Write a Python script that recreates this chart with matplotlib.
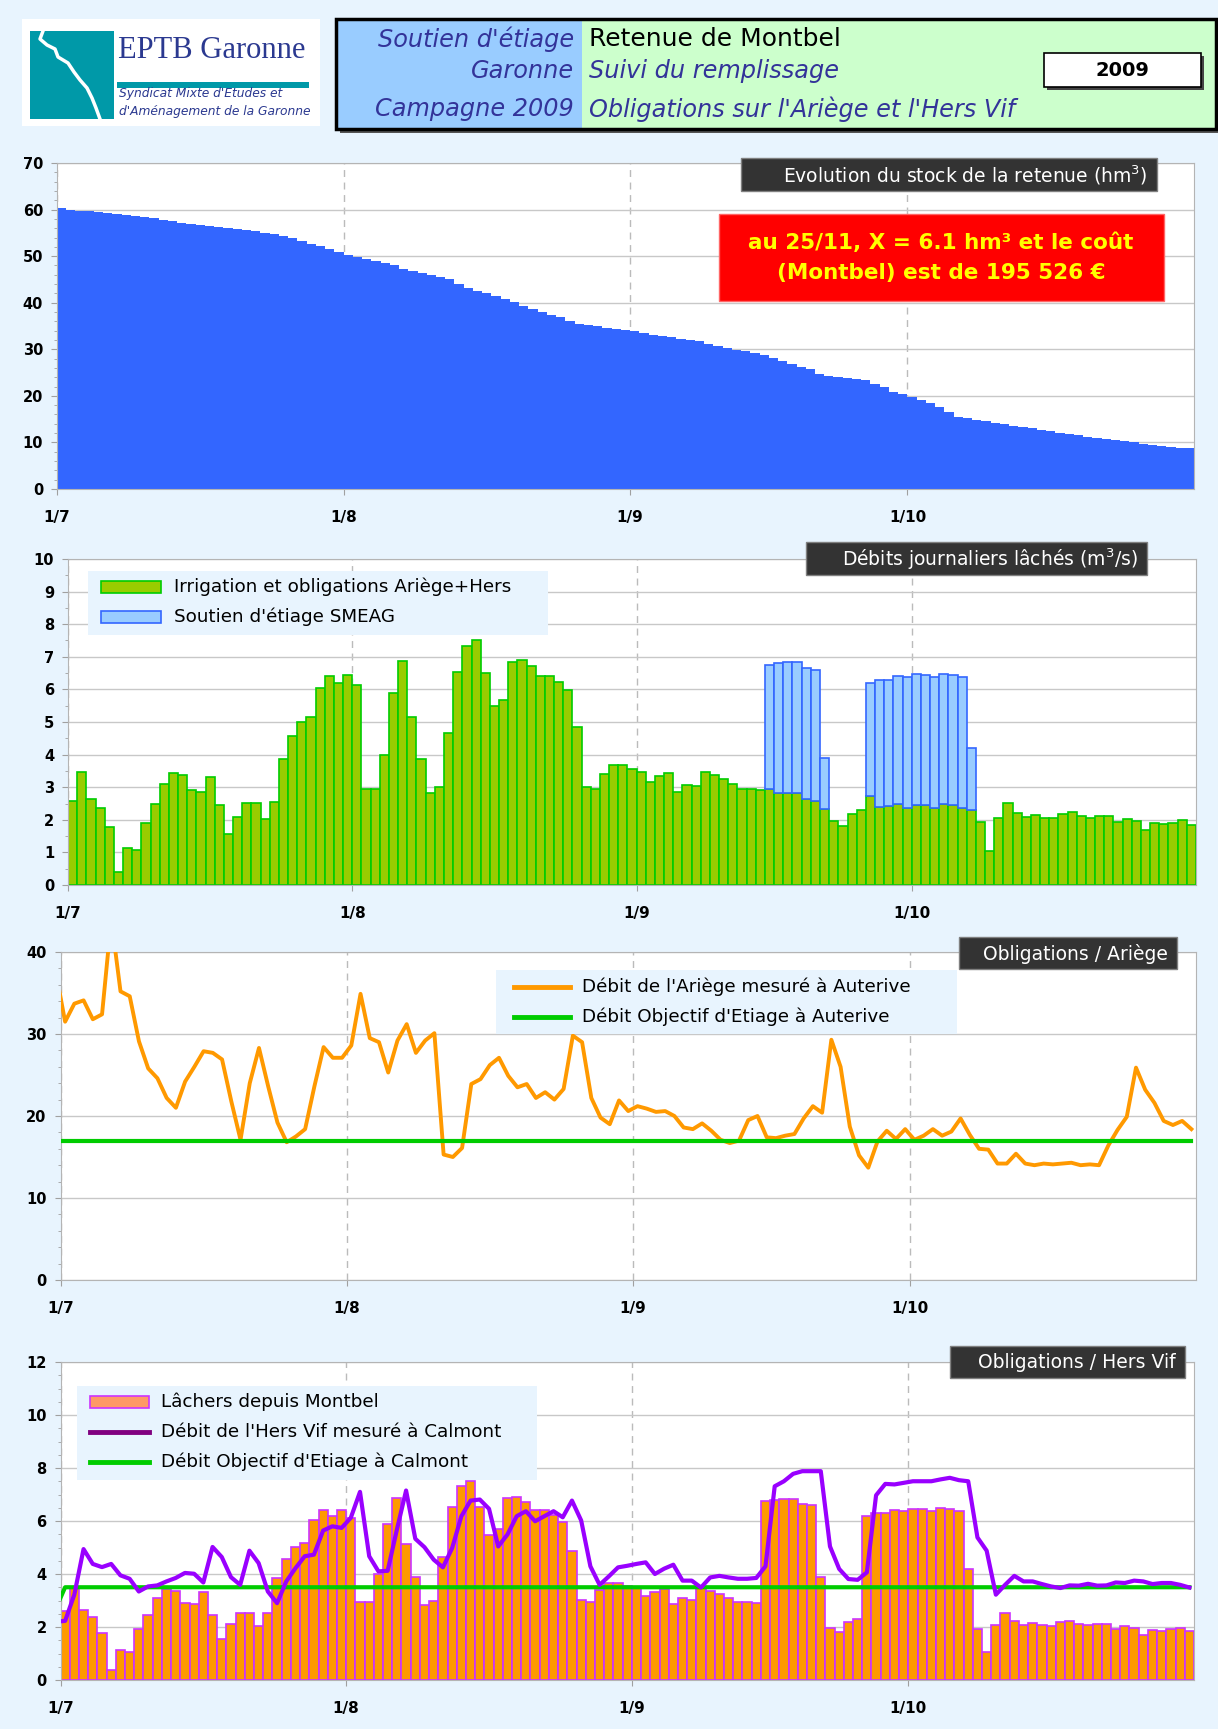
import matplotlib
matplotlib.use("Agg")
import matplotlib.pyplot as plt
from matplotlib.patches import Rectangle
from matplotlib.lines import Line2D
import numpy as np

plt.rcParams['font.family'] = ['DejaVu Sans']
plt.rcParams['mathtext.default'] = 'regular'

W, H = 1218, 1729
BG = '#E8F4FE'

# ---- data (one value per day, 1/7 -> 31/10) ----
month_ticks = [0, 31, 62, 92]
month_labels = ["1/7", "1/8", "1/9", "1/10"]
n_days = 123

# stock de la retenue (hm3)
stock = [60.3, 60.0, 59.8, 59.6, 59.4, 59.2, 59.0, 58.9, 58.7, 58.5, 58.2, 57.8, 57.5, 57.2, 56.9, 56.6,
         56.4, 56.2, 56.0, 55.8, 55.6, 55.3, 55.0, 54.7, 54.3, 53.9, 53.3, 52.7, 52.2, 51.5, 50.9,
         50.3, 49.8, 49.4, 49.0, 48.6, 48.0, 47.3, 46.8, 46.4, 46.0, 45.5, 45.0, 44.1, 43.2, 42.6, 42.1,
         41.4, 40.8, 40.1, 39.4, 38.7, 38.0, 37.3, 36.9, 36.0, 35.5, 35.2, 34.9, 34.6, 34.4, 34.2,
         34.0, 33.5, 33.1, 32.8, 32.6, 32.3, 32.0, 31.7, 31.2, 30.7, 30.2, 29.9, 29.6, 29.2, 28.7,
         28.2, 27.5, 26.9, 26.3, 25.7, 24.6, 24.2, 24.0, 23.8, 23.6, 23.3, 22.6, 21.9, 20.9, 20.4,
         19.7, 19.2, 18.4, 17.6, 16.5, 15.5, 15.2, 14.9, 14.5, 14.2, 13.9, 13.6, 13.3, 13.0, 12.7,
         12.4, 12.1, 11.8, 11.5, 11.2, 11.0, 10.7, 10.5, 10.2, 10.0, 9.7, 9.5, 9.2, 9.0, 8.9, 8.7]

# débits lâchés (m3/s) : irrigation + obligations Ariège/Hers
irrigation = [2.59, 3.48, 2.65, 2.36, 1.78, 0.39, 1.13, 1.06, 1.91, 2.47, 3.10, 3.45, 3.37, 2.90, 2.86, 3.32,
              2.45, 1.55, 2.10, 2.52, 2.52, 2.03, 2.54, 3.85, 4.58, 5.01, 5.16, 6.04, 6.40, 6.20, 6.43,
              6.12, 2.95, 2.95, 4.00, 5.89, 6.88, 5.14, 3.88, 2.83, 3.00, 4.65, 6.52, 7.33, 7.50, 6.51,
              5.48, 5.69, 6.85, 6.91, 6.72, 6.41, 6.40, 6.24, 5.98, 4.86, 3.02, 2.96, 3.41, 3.67, 3.67, 3.55,
              3.48, 3.17, 3.33, 3.45, 2.86, 3.08, 3.03, 3.47, 3.37, 3.26, 3.11, 2.96, 2.96, 2.90, 2.93,
              2.81, 2.83, 2.81, 2.65, 2.59, 2.34, 1.96, 1.80, 2.18, 2.31, 2.72, 2.40, 2.42, 2.49, 2.36,
              2.44, 2.45, 2.37, 2.47, 2.44, 2.37, 2.29, 1.93, 1.05, 2.06, 2.53, 2.21, 2.09, 2.14, 2.07,
              2.05, 2.17, 2.23, 2.13, 2.07, 2.11, 2.12, 1.92, 2.02, 1.96, 1.69, 1.90, 1.86, 1.91, 1.98, 1.84]

# soutien d'étiage SMEAG (m3/s)
smeag = ([0.0] * 76
         + [3.83, 4.00, 4.00, 4.02, 4.01, 4.02, 1.56]
         + [0.0] * 4
         + [3.48, 3.90, 3.88, 3.93, 4.01, 4.03, 4.00, 4.01, 4.01, 4.00, 4.01, 1.90]
         + [0.0] * 24)

# Ariège à Auterive (m3/s), from 30/6
ariege_flow = [37.5,
               31.5, 33.7, 34.1, 31.8, 32.4, 44.0, 35.2, 34.6, 29.1, 25.8, 24.6, 22.2, 21.0, 24.2, 26.0,
               27.9, 27.7, 26.9, 21.8, 17.1, 24.0, 28.3, 23.6, 19.2, 16.8, 17.5, 18.4, 23.6, 28.4, 27.1, 27.1,
               28.6, 34.9, 29.5, 29.0, 25.3, 29.2, 31.2, 27.7, 29.2, 30.1, 15.3, 15.0, 16.1, 23.9, 24.5,
               26.2, 27.1, 24.9, 23.5, 23.9, 22.2, 22.9, 22.0, 23.3, 29.8, 29.0, 22.2, 19.8, 19.0, 21.9, 20.6,
               21.2, 20.9, 20.5, 20.6, 20.0, 18.6, 18.4, 19.1, 18.2, 17.1, 16.7, 17.0, 19.5, 20.0, 17.4,
               17.3, 17.6, 17.8, 19.7, 21.2, 20.4, 29.3, 26.0, 18.7, 15.2, 13.7, 16.9, 18.2, 17.2, 18.4,
               17.1, 17.6, 18.4, 17.6, 18.1, 19.7, 17.7, 16.0, 15.9, 14.2, 14.2, 15.4, 14.2, 14.0, 14.2,
               14.1, 14.2, 14.3, 14.0, 14.1, 14.0, 16.4, 18.3, 19.9, 25.9, 23.2, 21.6, 19.4, 18.9, 19.4, 18.4]
ariege_doe = 17.0

# Hers Vif à Calmont (m3/s), from 30/6
hers_flow = [2.2,
             2.23, 3.22, 4.94, 4.38, 4.26, 4.38, 3.95, 3.82, 3.34, 3.53, 3.57, 3.72, 3.85, 4.04, 4.01,
             3.68, 5.02, 4.64, 3.88, 3.59, 4.88, 4.41, 3.34, 2.90, 3.72, 4.22, 4.67, 4.73, 5.64, 5.80, 5.74,
             6.12, 7.10, 4.67, 4.10, 4.12, 5.67, 7.15, 5.33, 5.01, 4.54, 4.25, 4.98, 6.18, 6.77, 6.81,
             6.46, 5.04, 5.49, 6.18, 6.37, 5.99, 6.18, 6.37, 6.14, 6.77, 6.02, 4.29, 3.59, 3.91, 4.25, 4.31,
             4.38, 4.44, 4.00, 4.20, 4.35, 3.75, 3.75, 3.49, 3.87, 3.93, 3.87, 3.82, 3.82, 3.85, 4.29,
             7.31, 7.50, 7.78, 7.88, 7.88, 7.88, 5.04, 4.19, 3.81, 3.78, 4.06, 6.97, 7.40, 7.38, 7.44,
             7.50, 7.50, 7.50, 7.57, 7.63, 7.54, 7.50, 5.38, 4.88, 3.22, 3.59, 3.93, 3.72, 3.72, 3.62,
             3.53, 3.47, 3.57, 3.56, 3.63, 3.56, 3.57, 3.68, 3.66, 3.75, 3.72, 3.62, 3.66, 3.66, 3.59, 3.49]
hers_doe_start = 2.7
hers_doe = 3.5

days = np.arange(n_days)
line_x = np.arange(-1, n_days) + 0.5   # 30/6 .. 31/10, centred on each day
irrigation = np.array(irrigation)
smeag = np.array(smeag)
lachers = irrigation + smeag


def px_axes(l, t, r, b):
    return fig.add_axes([l / W, 1 - b / H, (r - l) / W, (b - t) / H])


def px_rect(l, t, r, b, **kw):
    rect = Rectangle((l / W, 1 - b / H), (r - l) / W, (b - t) / H, transform=fig.transFigure, **kw)
    fig.add_artist(rect)
    return rect


def px_text(x, y, s, **kw):
    return fig.text(x / W, 1 - y / H, s, **kw)


def style_axes(ax, ymax, major, minor):
    ax.set_xlim(0, n_days)
    ax.set_ylim(0, ymax)
    ax.set_facecolor('white')
    ax.set_yticks(np.arange(0, ymax + 0.01, major))
    ax.set_yticks(np.arange(0, ymax + 0.01, minor), minor=True)
    ax.set_xticks(month_ticks)
    ax.set_xticklabels(month_labels)
    ax.grid(axis='y', which='major', color='#C8C8C8', lw=1)
    ax.grid(axis='x', which='major', color='#BBBBBB', lw=1, ls=(0, (5, 4)))
    ax.set_axisbelow(True)
    for s in ax.spines.values():
        s.set_color('#B4B4B4')
    ax.tick_params(axis='y', which='major', length=4, color='#A0A0A0', labelsize=10.5, pad=6)
    ax.tick_params(axis='y', which='minor', length=2.5, color='#A0A0A0')
    ax.tick_params(axis='x', length=4, color='#A0A0A0', labelsize=11, pad=11)
    for lbl in ax.get_xticklabels() + ax.get_yticklabels():
        lbl.set_fontweight('bold')


def title_box(l, t, r, b, text):
    px_rect(l, t, r, b, facecolor='#333333', edgecolor='#808080', lw=1, zorder=5)
    px_text(r - 9, (t + b) / 2 + 1, text, color='white', ha='right', va='center', fontsize=13.5, zorder=6)


def legend_panel(l, t, r, b, rows, x_handle, x_text):
    px_rect(l, t, r, b, facecolor=BG, edgecolor='none', zorder=5)
    for kind, fc, ec, label, y in rows:
        if kind == 'patch':
            px_rect(x_handle[0], y - 6, x_handle[1], y + 6, facecolor=fc, edgecolor=ec, lw=1.2, zorder=6)
        else:
            fig.add_artist(Line2D([x_handle[0] / W, x_handle[1] / W], [1 - y / H, 1 - y / H],
                                  transform=fig.transFigure, color=fc, lw=3.5, zorder=6))
        px_text(x_text, y, label, ha='left', va='center', fontsize=13.2, zorder=6)


fig = plt.figure(figsize=(W / 100, H / 100), dpi=100, facecolor=BG)

# ---- header ----
px_rect(22, 19, 320, 126, facecolor='white', edgecolor='none')
px_rect(30, 31, 114, 119, facecolor='#0099A8', edgecolor='none')
river_x = [43, 40, 47, 55, 58, 68, 74, 80, 87, 92, 96, 100]
river_y = [31, 39, 45, 49, 57, 63, 72, 80, 88, 98, 108, 119]
fig.add_artist(Line2D([v / W for v in river_x], [1 - v / H for v in river_y],
                      transform=fig.transFigure, color='white', lw=2.5))
px_text(118, 50, "EPTB Garonne", family='Liberation Serif', fontsize=22, color='#2B3990',
        ha='left', va='center')
px_rect(117, 82, 309, 88, facecolor='#0099A8', edgecolor='none')
px_text(119, 93, "Syndicat Mixte d'Etudes et", fontsize=8.8, style='italic', color='#2B3990',
        ha='left', va='center')
px_text(119, 111, "d'Aménagement de la Garonne", fontsize=8.8, style='italic', color='#2B3990',
        ha='left', va='center')

px_rect(340, 23, 1220, 133, facecolor='#555555', edgecolor='none')
px_rect(336, 19, 582, 129, facecolor='#99CCFF', edgecolor='none')
px_rect(582, 19, 1216, 129, facecolor='#CCFFCC', edgecolor='none')
px_rect(336, 19, 1216, 129, facecolor='none', edgecolor='black', lw=2.5)
for txt, y in [("Soutien d'étiage", 39), ("Garonne", 71), ("Campagne 2009", 109)]:
    px_text(574, y, txt, fontsize=17.3, style='italic', color='#333399', ha='right', va='center')
px_text(589, 39, "Retenue de Montbel", fontsize=18, color='black', ha='left', va='center')
px_text(589, 71, "Suivi du remplissage", fontsize=17.3, style='italic', color='#333399', ha='left', va='center')
px_text(589, 109, "Obligations sur l'Ariège et l'Hers Vif", fontsize=17.3, style='italic', color='#333399',
        ha='left', va='center')
px_rect(1047, 56, 1204, 90, facecolor='#444444', edgecolor='none')
px_rect(1044, 53, 1201, 87, facecolor='white', edgecolor='black', lw=1.2)
px_text(1122, 71, "2009", fontsize=14, fontweight='bold', ha='center', va='center')

# ---- panel 1 : stock ----
ax1 = px_axes(57, 163, 1194, 489)
style_axes(ax1, 70, 10, 2)
ax1.stairs(stock, np.arange(n_days + 1), fill=True, color='#3366FF', zorder=2)
title_box(741, 158, 1157, 191, "Evolution du stock de la retenue (hm$^3$)")
px_rect(719, 214, 1164, 301, facecolor='#FF0000', edgecolor='#FF6666', lw=1, zorder=5)
px_text(941, 243, "au 25/11, X = 6.1 hm³ et le coût", fontsize=15.5, fontweight='bold', color='#FFFF00',
        ha='center', va='center', zorder=6)
px_text(941, 273, "(Montbel) est de 195 526 €", fontsize=15.5, fontweight='bold', color='#FFFF00',
        ha='center', va='center', zorder=6)

# ---- panel 2 : débits lâchés ----
ax2 = px_axes(68, 559, 1196, 885)
style_axes(ax2, 10, 1, 0.5)
ax2.bar(days + 0.5, irrigation, width=1, color='#99CC00', edgecolor='#00CC00', lw=1.2, zorder=2)
has_smeag = smeag > 0
ax2.bar(days[has_smeag] + 0.5, smeag[has_smeag], bottom=irrigation[has_smeag], width=1,
        color='#99CCFF', edgecolor='#3366FF', lw=1.2, zorder=2)
title_box(806, 542, 1147, 575, "Débits journaliers lâchés (m$^3$/s)")
legend_panel(88, 571, 548, 635,
             [('patch', '#99CC00', '#00CC00', "Irrigation et obligations Ariège+Hers", 587),
              ('patch', '#99CCFF', '#3366FF', "Soutien d'étiage SMEAG", 617)],
             (101, 161), 174)

# ---- panel 3 : Ariège ----
ax3 = px_axes(60.5, 952, 1196, 1280)
style_axes(ax3, 40, 10, 2)
ax3.plot(line_x, ariege_flow, color='#FF9900', lw=2.8, zorder=3)
ax3.plot(line_x, [ariege_doe] * len(line_x), color='#00CC00', lw=3, zorder=3)
title_box(959, 937, 1177, 969, "Obligations / Ariège")
legend_panel(496, 970, 957, 1034,
             [('line', '#FF9900', None, "Débit de l'Ariège mesuré à Auterive", 987),
              ('line', '#00CC00', None, "Débit Objectif d'Etiage à Auterive", 1017)],
             (514, 570), 582)

# ---- panel 4 : Hers Vif ----
ax4 = px_axes(60.5, 1362, 1194, 1680)
style_axes(ax4, 12, 2, 0.5)
ax4.bar(days + 0.5, lachers, width=1, color='#FF9900', edgecolor='#CC33FF', lw=1.2, zorder=2)
ax4.plot(line_x, [hers_doe_start] + [hers_doe] * n_days, color='#00CC00', lw=3, zorder=3)
ax4.plot(line_x, hers_flow, color='#9900FF', lw=3, zorder=4)
title_box(950, 1346, 1185, 1378, "Obligations / Hers Vif")
legend_panel(77, 1386, 537, 1480,
             [('patch', '#FF9966', '#CC33FF', "Lâchers depuis Montbel", 1402),
              ('line', '#800080', None, "Débit de l'Hers Vif mesuré à Calmont", 1432),
              ('line', '#00CC00', None, "Débit Objectif d'Etiage à Calmont", 1462)],
             (90, 149), 161)

fig.savefig("out.png", dpi=100, facecolor=BG)
